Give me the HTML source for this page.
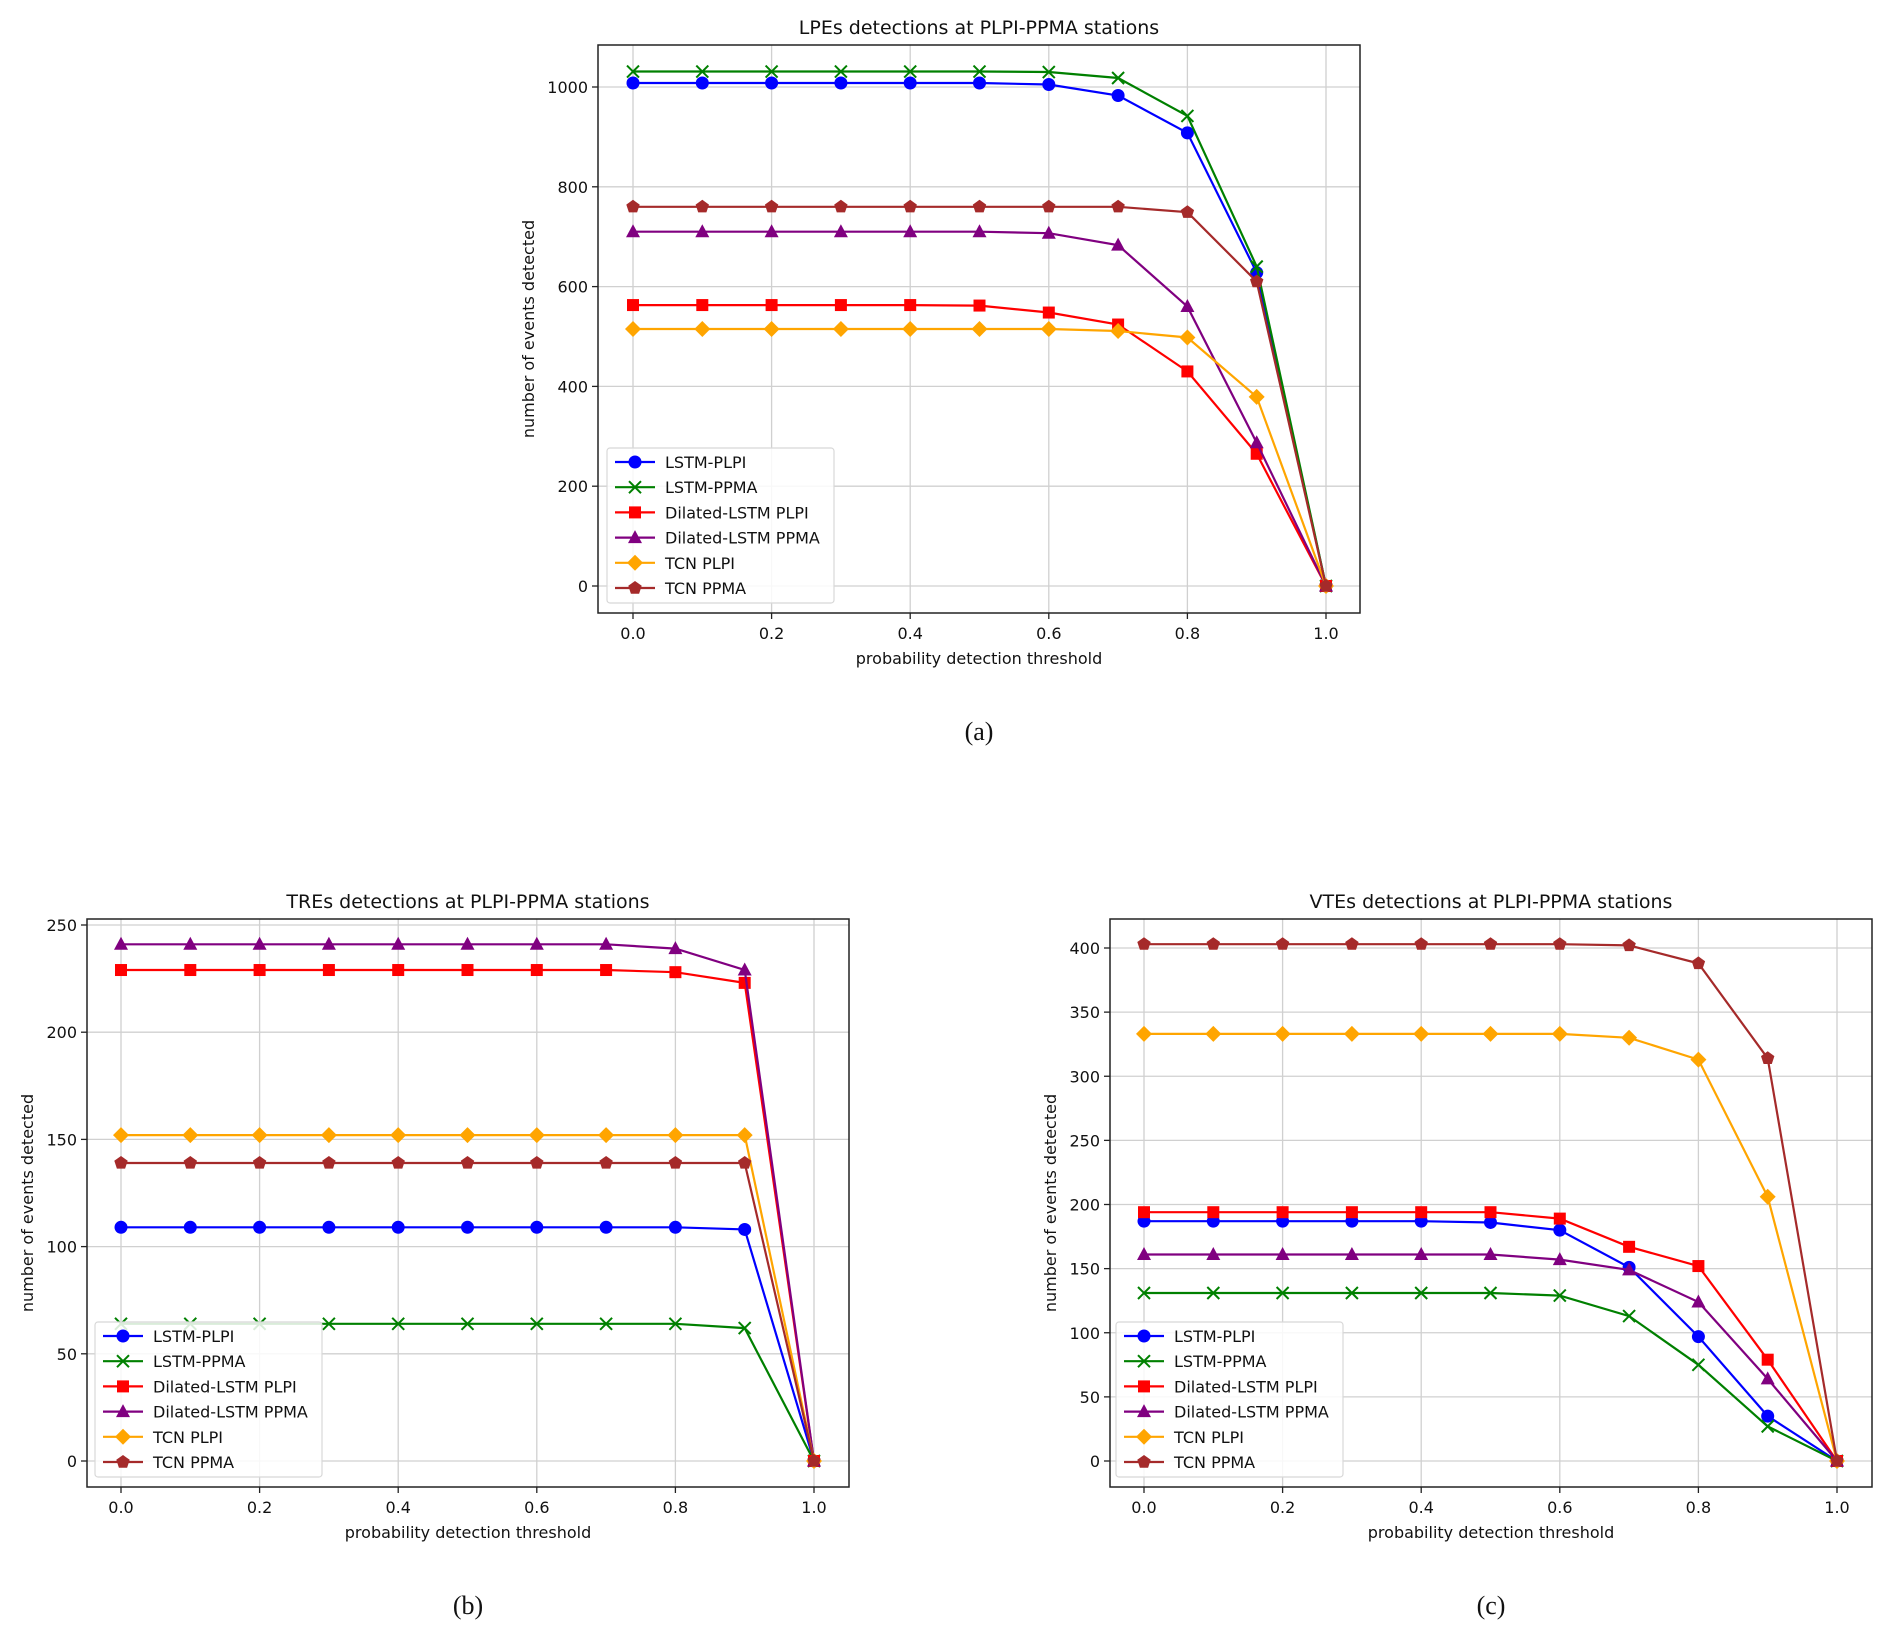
<!DOCTYPE html>
<html><head><meta charset="utf-8"><style>
body{margin:0;background:#fff;}
svg{display:block;font-family:"DejaVu Sans","Liberation Sans",sans-serif;}
</style></head><body>
<svg id="fig" width="1892" height="1640" viewBox="0 0 1892 1640" xmlns="http://www.w3.org/2000/svg"></svg>
<script>
const xValues=[0,0.1,0.2,0.3,0.4,0.5,0.6,0.7,0.8,0.9,1.0];
const xTicks=[0,0.2,0.4,0.6,0.8,1.0];
const seriesNames=["LSTM-PLPI","LSTM-PPMA","Dilated-LSTM PLPI","Dilated-LSTM PPMA","TCN PLPI","TCN PPMA"];
const seriesColors=["#0000ff","#008000","#ff0000","#800080","#ffa500","#a52a2a"];
const seriesMarkers=["circle","x","square","triangle","diamond","pentagon"];

const lpeLstmPlpi=[1008,1008,1008,1008,1008,1008,1005,983,908,628,0];
const lpeLstmPpma=[1031,1031,1031,1031,1031,1031,1030,1018,942,640,0];
const lpeDilPlpi=[563,563,563,563,563,562,548,524,430,265,0];
const lpeDilPpma=[710,710,710,710,710,710,707,683,560,287,0];
const lpeTcnPlpi=[515,515,515,515,515,515,515,511,498,379,0];
const lpeTcnPpma=[760,760,760,760,760,760,760,760,749,610,0];
const lpeYTicks=[0,200,400,600,800,1000];

const treLstmPlpi=[109,109,109,109,109,109,109,109,109,108,0];
const treLstmPpma=[64,64,64,64,64,64,64,64,64,62,0];
const treDilPlpi=[229,229,229,229,229,229,229,229,228,223,0];
const treDilPpma=[241,241,241,241,241,241,241,241,239,229,0];
const treTcnPlpi=[152,152,152,152,152,152,152,152,152,152,0];
const treTcnPpma=[139,139,139,139,139,139,139,139,139,139,0];
const treYTicks=[0,50,100,150,200,250];

const vteLstmPlpi=[187,187,187,187,187,186,180,151,97,35,0];
const vteLstmPpma=[131,131,131,131,131,131,129,113,75,27,0];
const vteDilPlpi=[194,194,194,194,194,194,189,167,152,79,0];
const vteDilPpma=[161,161,161,161,161,161,157,149,124,64,0];
const vteTcnPlpi=[333,333,333,333,333,333,333,330,313,206,0];
const vteTcnPpma=[403,403,403,403,403,403,403,402,388,314,0];
const vteYTicks=[0,50,100,150,200,250,300,350,400];

const NS="http://www.w3.org/2000/svg";
const svg=document.getElementById('fig');
function mk(tag,attrs,parent){const e=document.createElementNS(NS,tag);for(const k in attrs)e.setAttribute(k,attrs[k]);(parent||svg).appendChild(e);return e;}

function marker(g,type,x,y,c){
  let m;
  if(type==="circle")m=mk('circle',{cx:x,cy:y,r:6.5,fill:c},g);
  else if(type==="square")m=mk('rect',{x:x-6,y:y-6,width:12,height:12,fill:c},g);
  else if(type==="triangle")m=mk('polygon',{points:`${x},${y-7.5} ${x+7},${y+5.5} ${x-7},${y+5.5}`,fill:c},g);
  else if(type==="diamond")m=mk('polygon',{points:`${x},${y-8} ${x+8},${y} ${x},${y+8} ${x-8},${y}`,fill:c},g);
  else if(type==="pentagon"){let p=[];for(let i=0;i<5;i++){const a=-Math.PI/2+i*2*Math.PI/5;p.push((x+7*Math.cos(a)).toFixed(1)+","+(y+7*Math.sin(a)).toFixed(1));}m=mk('polygon',{points:p.join(' '),fill:c},g);}
  else{m=mk('path',{d:`M${x-6},${y-6}L${x+6},${y+6}M${x-6},${y+6}L${x+6},${y-6}`,stroke:c,'stroke-width':2,fill:'none'},g);}
  
  
}

function chart(cfg){
  const g=mk('g',{});
  
  
  const {L,R,T,B,x0px,x1px,y0px,yTopPx,yTopVal}=cfg;
  const sx=v=>x0px+(x1px-x0px)*v;
  const sy=v=>y0px-(y0px-yTopPx)*v/yTopVal;
  // grid
  xTicks.forEach(t=>{const l=mk('line',{x1:sx(t),x2:sx(t),y1:T,y2:B,stroke:'#d0d0d0','stroke-width':1.3},g);});
  cfg.yTicks.forEach(t=>{const l=mk('line',{x1:L,x2:R,y1:sy(t),y2:sy(t),stroke:'#d0d0d0','stroke-width':1.3},g);});
  // series
  cfg.series.forEach((d,i)=>{
    const sg=mk('g',{},g);
    
    
    const pts=d.map((v,j)=>sx(xValues[j]).toFixed(1)+","+sy(v).toFixed(1)).join(' ');
    mk('polyline',{points:pts,fill:'none',stroke:seriesColors[i],'stroke-width':2.2},sg);
    d.forEach((v,j)=>marker(sg,seriesMarkers[i],sx(xValues[j]),sy(v),seriesColors[i]));
  });
  // frame
  const f=mk('rect',{x:L,y:T,width:R-L,height:B-T,fill:'none',stroke:'#222','stroke-width':1.5},g);
  
  // ticks
  xTicks.forEach(t=>{mk('line',{x1:sx(t),x2:sx(t),y1:B,y2:B+6,stroke:'#222','stroke-width':1.3},g);
    const tx=mk('text',{x:sx(t),y:B+26,'font-size':16,'text-anchor':'middle',fill:'#111'},g);tx.textContent=t.toFixed(1);
    });
  cfg.yTicks.forEach(t=>{mk('line',{x1:L-6,x2:L,y1:sy(t),y2:sy(t),stroke:'#222','stroke-width':1.3},g);
    const tx=mk('text',{x:L-10,y:sy(t)+6,'font-size':16,'text-anchor':'end',fill:'#111'},g);tx.textContent=t;
    });
  const tt=mk('text',{x:(L+R)/2,y:T-11,'font-size':19,'text-anchor':'middle',fill:'#111'},g);tt.textContent=cfg.title;
  
  const xl=mk('text',{x:(L+R)/2,y:B+51,'font-size':16,'text-anchor':'middle',fill:'#111'},g);xl.textContent='probability detection threshold';
  
  const yx=cfg.ylabelX,yy=(T+B)/2;
  const yl=mk('text',{x:yx,y:yy,'font-size':16,'text-anchor':'middle',fill:'#111',transform:`rotate(-90 ${yx} ${yy})`},g);yl.textContent='number of events detected';
  
  // legend
  const lg=mk('g',{},g);
  const lx=cfg.legX,ly=cfg.legY;
  mk('rect',{x:lx,y:ly,width:227,height:155,rx:3,fill:'#fff','fill-opacity':0.85,stroke:'#d8d8d8','stroke-width':1.2},lg);
  seriesNames.forEach((n,i)=>{
    const yy2=ly+14+i*25.2;
    const e=mk('g',{},lg);
    mk('line',{x1:lx+8,x2:lx+48,y1:yy2,y2:yy2,stroke:seriesColors[i],'stroke-width':2.2},e);
    marker(e,seriesMarkers[i],lx+28,yy2,seriesColors[i]);
    const t=mk('text',{x:lx+58,y:yy2+6,'font-size':16,fill:'#111'},e);t.textContent=n;
  });
  const cap=mk('text',{x:(L+R)/2,y:cfg.capY,'font-size':26,'text-anchor':'middle',fill:'#111','font-family':'"Liberation Serif",serif'},g);
  cap.textContent=cfg.cap;
}

chart({name:'chart-lpe',title:'LPEs detections at PLPI-PPMA stations',L:598,R:1360,T:45,B:613,x0px:633,x1px:1326,y0px:586,yTopPx:87,yTopVal:1000,yTicks:lpeYTicks,
  series:[lpeLstmPlpi,lpeLstmPpma,lpeDilPlpi,lpeDilPpma,lpeTcnPlpi,lpeTcnPpma],ylabelX:534,legX:607,legY:448,capY:740,cap:'(a)'});
chart({name:'chart-tre',title:'TREs detections at PLPI-PPMA stations',L:87,R:849,T:919,B:1487,x0px:121,x1px:814,y0px:1461,yTopPx:925,yTopVal:250,yTicks:treYTicks,
  series:[treLstmPlpi,treLstmPpma,treDilPlpi,treDilPpma,treTcnPlpi,treTcnPpma],ylabelX:33,legX:95,legY:1322,capY:1614,cap:'(b)'});
chart({name:'chart-vte',title:'VTEs detections at PLPI-PPMA stations',L:1110,R:1872,T:919,B:1487,x0px:1144,x1px:1837,y0px:1461,yTopPx:948,yTopVal:400,yTicks:vteYTicks,
  series:[vteLstmPlpi,vteLstmPpma,vteDilPlpi,vteDilPpma,vteTcnPlpi,vteTcnPpma],ylabelX:1056,legX:1116,legY:1322,capY:1614,cap:'(c)'});
</script>
</body></html>
